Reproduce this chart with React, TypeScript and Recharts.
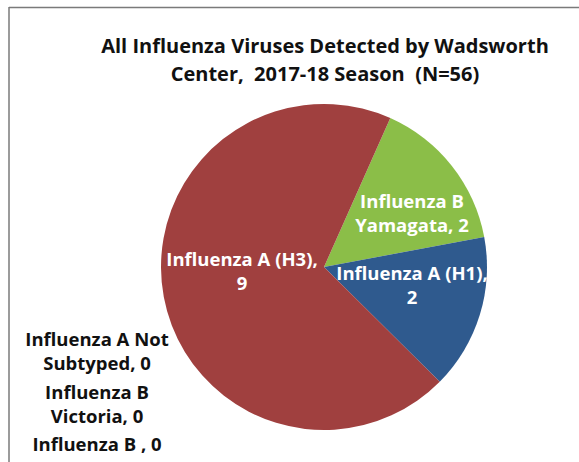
import { PieChart, Pie, Cell } from 'recharts';

const CATEGORIES = [
  'Influenza B Yamagata',
  'Influenza A (H1)',
  'Influenza A (H3)',
  'Influenza A Not Subtyped',
  'Influenza B Victoria',
  'Influenza B ',
];
const COUNTS = [2, 2, 9, 0, 0, 0];
const COLORS = ['#8BBE48', '#2F5A8E', '#A0403F', '#4BACC6', '#8064A2', '#F79646'];
const LABEL_LINES = [
  ['Influenza B', 'Yamagata, 2'],
  ['Influenza A (H1),', '2'],
  ['Influenza A (H3),', '9'],
  ['Influenza A Not', 'Subtyped, 0'],
  ['Influenza B', 'Victoria, 0'],
  ['Influenza B , 0'],
];

// where Excel left each data label (manually dragged for the zero slices)
const LABEL_POS: [number, number][] = [
  [412, 212],
  [412, 284],
  [242, 270],
  [97, 350],
  [97, 403],
  [97, 443],
];

const FONT = '"Open Sans", sans-serif';

const data = CATEGORIES.map((name, i) => ({ name, value: COUNTS[i] }));

function SliceLabel(props: any) {
  const i: number = props.index;
  const [x, y] = LABEL_POS[i];
  const lines = LABEL_LINES[i];
  const lh = 24;
  const y0 = y - ((lines.length - 1) * lh) / 2;
  return (
    <text
      x={x}
      y={y0}
      textAnchor="middle"
      dominantBaseline="central"
      fill={COUNTS[i] > 0 ? '#FFFFFF' : '#111111'}
      fontFamily={FONT}
      fontWeight={700}
      fontSize={18.5}
    >
      {lines.map((l, k) => (
        <tspan key={k} x={x} y={y0 + k * lh}>
          {l}
        </tspan>
      ))}
    </text>
  );
}

export default function App() {
  return (
    <div style={{ position: 'absolute', left: 0, top: 0, width: 579, height: 462, background: '#fff' }}>
      <PieChart width={579} height={462} margin={{ top: 0, right: 0, bottom: 0, left: 0 }}>
        <line x1={9} y1={7.5} x2={579} y2={7.5} stroke="#7A7A7A" strokeWidth={1.5} />
        <line x1={9} y1={7} x2={9} y2={462} stroke="#7A7A7A" strokeWidth={1.5} />
        <text
          x={325}
          y={45}
          textAnchor="middle"
          dominantBaseline="central"
          fontFamily={FONT}
          fontWeight={700}
          fontSize={20}
          fill="#111"
        >
          All Influenza Viruses Detected by Wadsworth
        </text>
        <text
          x={325}
          y={73}
          textAnchor="middle"
          dominantBaseline="central"
          fontFamily={FONT}
          fontWeight={700}
          fontSize={20}
          fill="#111"
          style={{ whiteSpace: 'pre' }}
        >
          {'Center,  2017-18 Season  (N=56)'}
        </text>
        <Pie
          data={data}
          dataKey="value"
          nameKey="name"
          cx={324}
          cy={267}
          outerRadius={163}
          startAngle={66}
          endAngle={-294}
          stroke="none"
          isAnimationActive={false}
          labelLine={false}
          label={SliceLabel}
        >
          {data.map((_, i) => (
            <Cell key={i} fill={COLORS[i]} />
          ))}
        </Pie>
      </PieChart>
    </div>
  );
}
